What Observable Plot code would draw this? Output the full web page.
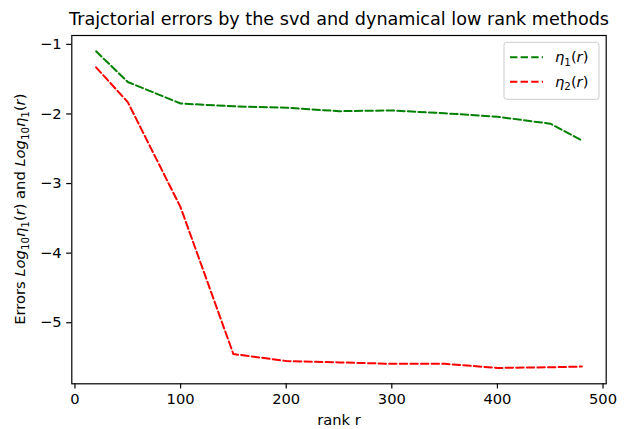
<!DOCTYPE html>
<html>
<head>
<meta charset="utf-8">
<script src="https://cdn.jsdelivr.net/npm/d3@7"></script>
<script src="https://cdn.jsdelivr.net/npm/@observablehq/plot@0.6"></script>
<style>
  html, body { margin: 0; padding: 0; background: #fff; }
  svg { display: block; }
</style>
</head>
<body>
<div id="chart"></div>
<script>
// ---- data ----
const rank = [20, 50, 100, 150, 200, 250, 300, 350, 400, 450, 480];
const eta1 = [-1.10, -1.54, -1.85, -1.89, -1.91, -1.96, -1.95, -1.99, -2.04, -2.14, -2.38];
const eta2 = [-1.33, -1.83, -3.34, -5.45, -5.55, -5.57, -5.59, -5.59, -5.65, -5.64, -5.63];
const seriesKeys = ["eta1", "eta2"];
const seriesColors = ["#008000", "#ff0000"];
const xTicks = [0, 100, 200, 300, 400, 500];
const yTicks = [-1, -2, -3, -4, -5];
const titleText = "Trajctorial errors by the svd and dynamical low rank methods";
const xLabel = "rank r";

const rows = [];
rank.forEach((r, i) => {
  rows.push({rank: r, value: eta1[i], series: seriesKeys[0]});
  rows.push({rank: r, value: eta2[i], series: seriesKeys[1]});
});

const W = 636, H = 429;
const mL = 71.3, mR = 30.3, mT = 35, mB = 45.7;
const dash = "7.4,3.2";
const FS = 14.7;      // tick / label font size
const TFS = 17.6;     // title font size
const SFS = 10.3;     // subscript font size

const plot = Plot.plot({
  width: W,
  height: H,
  marginLeft: mL,
  marginRight: mR,
  marginTop: mT,
  marginBottom: mB,
  style: {fontFamily: "'DejaVu Sans', sans-serif", fontSize: FS + "px", background: "white", color: "black"},
  x: {domain: [-3, 503]},
  y: {domain: [-5.8775, -0.8725]},
  color: {domain: seriesKeys, range: seriesColors},
  marks: [
    Plot.axisX({ticks: xTicks, tickSize: 5.1, tickPadding: 5.1, tickFormat: d3.format("d"), label: null, fontSize: FS, strokeWidth: 1.2}),
    Plot.axisY({ticks: yTicks, tickSize: 5.1, tickPadding: 5.1, tickFormat: d3.format("d"), label: null, fontSize: FS, strokeWidth: 1.2}),
    Plot.lineY(rows, {x: "rank", y: "value", z: "series", stroke: "series", strokeWidth: 2, strokeDasharray: dash, strokeLinejoin: "round"}),
    Plot.frame({stroke: "black", strokeWidth: 1.2}),
    Plot.text([titleText], {text: d => d, frameAnchor: "top", dy: -11, fontSize: TFS, lineAnchor: "bottom"}),
    Plot.text([xLabel], {text: d => d, frameAnchor: "bottom", dy: 30.5, fontSize: FS, lineAnchor: "top"})
  ]
});

document.getElementById("chart").appendChild(plot);

// y-axis label with math-style subscripts
const svg = d3.select(plot);
const plotCenterY = mT + (H - mT - mB) / 2;
const yl = svg.append("text")
  .attr("transform", `translate(25,${plotCenterY}) rotate(-90)`)
  .attr("text-anchor", "middle")
  .attr("font-family", "'DejaVu Sans', sans-serif")
  .attr("font-size", FS)
  .attr("fill", "black");
yl.append("tspan").text("Errors ");
yl.append("tspan").attr("font-style", "italic").text("Log");
yl.append("tspan").attr("font-size", SFS).attr("dy", 3.5).text("10");
yl.append("tspan").attr("dy", -3.5).attr("font-style", "italic").text("η");
yl.append("tspan").attr("font-size", SFS).attr("dy", 3.5).text("1");
yl.append("tspan").attr("dy", -3.5).text("(");
yl.append("tspan").attr("font-style", "italic").text("r");
yl.append("tspan").text(") and ");
yl.append("tspan").attr("font-style", "italic").text("Log");
yl.append("tspan").attr("font-size", SFS).attr("dy", 3.5).text("10");
yl.append("tspan").attr("dy", -3.5).attr("font-style", "italic").text("η");
yl.append("tspan").attr("font-size", SFS).attr("dy", 3.5).text("1");
yl.append("tspan").attr("dy", -3.5).text("(");
yl.append("tspan").attr("font-style", "italic").text("r");
yl.append("tspan").text(")");

// legend
const lg = svg.append("g")
  .attr("font-family", "'DejaVu Sans', sans-serif")
  .attr("text-anchor", "start");
lg.append("rect").attr("x", 504).attr("y", 42.3).attr("width", 95).attr("height", 57)
  .attr("rx", 2.5).attr("fill", "white").attr("fill-opacity", 0.8)
  .attr("stroke", "#cccccc").attr("stroke-width", 1);
const legendY = [57.3, 81.7];
const legendSub = ["1", "2"];
seriesKeys.forEach((k, i) => {
  lg.append("line").attr("x1", 510).attr("x2", 543).attr("y1", legendY[i]).attr("y2", legendY[i])
    .attr("stroke", seriesColors[i]).attr("stroke-width", 2).attr("stroke-dasharray", dash);
  const t = lg.append("text").attr("x", 555).attr("y", legendY[i] + 5)
    .attr("font-size", FS).attr("fill", "black").attr("text-anchor", "start");
  t.append("tspan").attr("font-style", "italic").text("η");
  t.append("tspan").attr("font-size", SFS).attr("dy", 3.5).text(legendSub[i]);
  t.append("tspan").attr("dy", -3.5).text("(");
  t.append("tspan").attr("font-style", "italic").text("r");
  t.append("tspan").text(")");
});
</script>
</body>
</html>
